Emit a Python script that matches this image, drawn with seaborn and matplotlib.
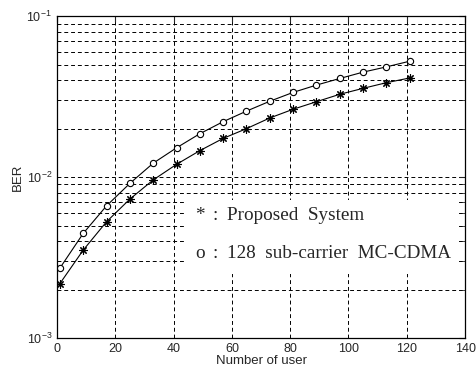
import numpy as np
import pandas as pd
import matplotlib
matplotlib.use("Agg")
import matplotlib.pyplot as plt
import seaborn as sns

# Datos
usuarios = [1, 9, 17, 25, 33, 41, 49, 57, 65, 73, 81, 89, 97, 105, 113, 121]
ber_propuesto = [2.18e-3, 3.52e-3, 5.28e-3, 7.3e-3, 9.6e-3, 1.2e-2, 1.46e-2, 1.74e-2,
                 2.0e-2, 2.33e-2, 2.64e-2, 2.94e-2, 3.27e-2, 3.56e-2, 3.86e-2, 4.13e-2]
ber_mccdma = [2.72e-3, 4.47e-3, 6.63e-3, 9.14e-3, 1.22e-2, 1.52e-2, 1.86e-2, 2.21e-2,
              2.57e-2, 2.96e-2, 3.36e-2, 3.73e-2, 4.1e-2, 4.49e-2, 4.84e-2, 5.25e-2]
xticks = [0, 20, 40, 60, 80, 100, 120, 140]

df = pd.DataFrame({"usuarios": usuarios, "prop": ber_propuesto, "mc": ber_mccdma})

sns.set_style("white")
plt.rcParams['font.family'] = ['Liberation Sans', 'DejaVu Sans']

fig = plt.figure(figsize=(4.77, 3.76), dpi=100)
ax = fig.add_axes([0.1195, 0.101, 0.8555, 0.856])

sns.lineplot(data=df, x="usuarios", y="mc", ax=ax, color="black", linewidth=0.8,
             marker="o", markersize=4.5, markerfacecolor="white", markeredgecolor="black",
             markeredgewidth=0.8)
sns.lineplot(data=df, x="usuarios", y="prop", ax=ax, color="black", linewidth=0.8,
             marker=(8, 2, 0), markersize=6, markeredgecolor="black", markeredgewidth=0.8)

ax.set_yscale("log")
ax.set_xlim(0, 140)
ax.set_ylim(1e-3, 1e-1)
ax.set_xticks(xticks)
ax.grid(True, which="major", axis="x", linestyle=(0, (4, 3)), color="black", linewidth=0.7)
ax.grid(True, which="both", axis="y", linestyle=(0, (4, 3)), color="black", linewidth=0.7)
ax.tick_params(which="both", direction="in", labelsize=9, top=True, right=True)
ax.tick_params(which="major", length=4)
ax.tick_params(which="minor", length=2)
for s in ax.spines.values():
    s.set_color("black")
    s.set_linewidth(0.9)

ax.set_xlabel("Number of user", fontsize=9.5, labelpad=0)
ax.set_ylabel("BER", fontsize=9.5, labelpad=2)

# Leyenda como texto con caja blanca
caja = plt.Rectangle((0.316, 0.199), 0.667, 0.23, transform=ax.transAxes,
                     facecolor="white", edgecolor="none", zorder=3)
ax.add_patch(caja)
fuente = dict(transform=ax.transAxes, fontsize=13.8, family="Liberation Serif",
              va="center", zorder=4)
ax.text(0.338, 0.382, "*", **fuente)
ax.text(0.382, 0.382, ":", **fuente)
ax.text(0.417, 0.382, "Proposed  System", **fuente)
ax.text(0.338, 0.264, "o", **fuente)
ax.text(0.382, 0.264, ":", **fuente)
ax.text(0.417, 0.264, "128  sub-carrier  MC-CDMA", **fuente)

fig.savefig("out.png", dpi=100)
